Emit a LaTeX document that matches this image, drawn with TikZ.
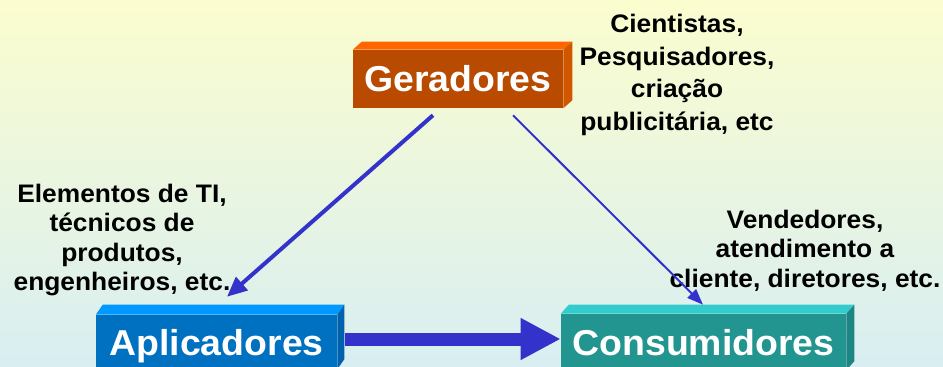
\documentclass[tikz,border=0pt]{standalone}
\usepackage{fontspec}
\setmainfont{Liberation Sans}[FakeStretch=1.04]
\usetikzlibrary{arrows.meta}

\definecolor{fundoTopo}{RGB}{251,253,206}
\definecolor{fundoBase}{RGB}{216,238,242}
\definecolor{gerFrente}{RGB}{184,75,0}
\definecolor{gerTopo}{RGB}{255,102,0}
\definecolor{gerLado}{RGB}{208,86,0}
\definecolor{aplFrente}{RGB}{0,112,192}
\definecolor{aplTopo}{RGB}{0,153,255}
\definecolor{aplLado}{RGB}{0,98,172}
\definecolor{conFrente}{RGB}{35,149,144}
\definecolor{conTopo}{RGB}{51,204,204}
\definecolor{conLado}{RGB}{30,134,130}
\definecolor{corSeta}{RGB}{51,51,204}

\begin{document}
\begin{tikzpicture}[x=0.75pt,y=0.75pt,yscale=-1,xscale=1,
  bloco/.style={fill=#1, text=white, inner sep=0pt, font=\fontsize{27}{32}\selectfont\bfseries, text height=19.5pt, text depth=0pt},
  rotulo/.style={align=center, inner sep=0pt, font=\fontsize{19}{#1}\selectfont\bfseries},
  rotulo/.default=22pt,
  seta/.style={draw=corSeta, line width=#1}]
\useasboundingbox (0,0) rectangle (943,367);
\clip (0,0) rectangle (943,367);

%Background
\fill [top color=fundoTopo, bottom color=fundoBase] (0,0) rectangle (943,367);

%Blocks
\node [bloco=gerFrente, minimum width=157.5pt, minimum height=43.5pt] (ger) at (458,79) {Geradores};
\node [bloco=aplFrente, minimum width=180.75pt, minimum height=40.5pt] (apl) at (216.5,342) {Aplicadores};
\node [bloco=conFrente, minimum width=213.75pt, minimum height=42pt] (con) at (703.5,342) {Consumidores};

%3D faces
\foreach \n/\dx/\dy in {ger/9/-8, apl/7/-10, con/8/-9}{
  \fill [\n Topo] (\n.north west) -- ++(\dx,\dy) -- ([shift={(\dx,\dy)}]\n.north east) -- (\n.north east) -- cycle;
  \fill [\n Lado] (\n.north east) -- ++(\dx,\dy) -- ([shift={(\dx,\dy)}]\n.south east) -- (\n.south east) -- cycle;
}

% Text Node
\node [rotulo=24.5pt, anchor=north] (cie) at (677,14) {Cientistas,\\Pesquisadores,\\criação\\publicitária, etc};
% Text Node
\node [rotulo, anchor=north] (ele) at (122,184) {Elementos de TI,\\técnicos de\\produtos,\\engenheiros, etc.};
% Text Node
\node [rotulo, anchor=north] (ven) at (805,210) {Vendedores,\\atendimento a\\cliente, diretores, etc.};

%Arrows
\draw [seta=3pt, -{Triangle[length=15pt,width=13pt]}] ([shift={(-25,7)}]ger.south) -- ([shift={(10.5,-18)}]apl.north);
\draw [seta=1.5pt, -{Triangle[length=12pt,width=9pt]}] ([shift={(55,7)}]ger.south) -- ([shift={(-0.5,-9)}]con.north);
\draw [seta=9.75pt, -{Triangle[length=30pt,width=29.25pt]}] ([shift={(8,-3)}]apl.east) -- ([shift={(0,-3)}]con.west);

\end{tikzpicture}
\end{document}
